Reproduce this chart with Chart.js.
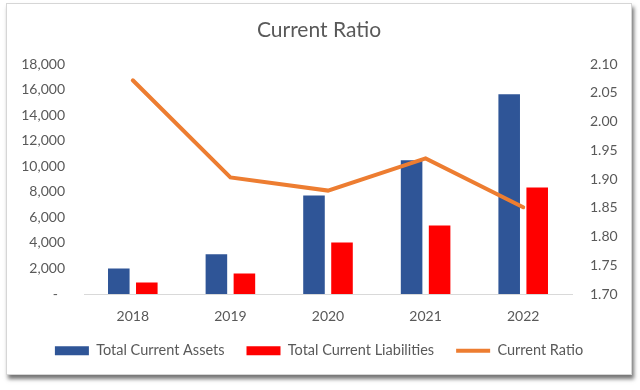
<!DOCTYPE html>
<html>
<head>
<meta charset="utf-8">
<title>Current Ratio</title>
<script src="https://cdn.jsdelivr.net/npm/chart.js@4.4.1/dist/chart.umd.min.js"></script>
<style>
    body { margin: 0; background: #ffffff; width: 640px; height: 390px; overflow: hidden; }
    /* card behind the chart, with the grey frame and drop shadow */
    #card {
        position: absolute; left: 6px; top: 3px; width: 624px; height: 370px;
        border: 1px solid #d6d6d6; background: #ffffff;
        box-shadow: 2px 4px 4px rgba(0, 0, 0, 0.55);
    }
    #chart { position: absolute; left: 6px; top: 3px; }
</style>
</head>
<body>
<div id="card"></div>
<canvas id="chart" width="626" height="372"></canvas>
<script>
// Data
const years = ['2018', '2019', '2020', '2021', '2022'];
const totalCurrentAssets = [2000, 3120, 7720, 10470, 15640];
const totalCurrentLiabilities = [900, 1610, 4040, 5370, 8350];
const currentRatio = [2.072, 1.903, 1.880, 1.936, 1.851];

// Axis ranges
const leftMax = 18000;
const leftStep = 2000;
const rightMin = 1.70;
const rightMax = 2.10;
const rightStep = 0.05;

const textColor = '#595959';
Chart.defaults.font.family = 'Lato, "Open Sans", sans-serif';
Chart.defaults.color = textColor;

const ctx = document.getElementById('chart').getContext('2d');
const chart = new Chart(ctx, {
    type: 'bar',
    data: {
        labels: years,
        datasets: [
            {
                label: 'Total Current Assets',
                data: totalCurrentAssets,
                backgroundColor: '#2F5597',
                borderWidth: 0,
                pointStyle: 'rect',
                categoryPercentage: 0.574,
                barPercentage: 0.77,
                yAxisID: 'y',
                order: 1
            },
            {
                label: 'Total Current Liabilities',
                data: totalCurrentLiabilities,
                backgroundColor: '#FF0000',
                borderWidth: 0,
                pointStyle: 'rect',
                categoryPercentage: 0.574,
                barPercentage: 0.77,
                yAxisID: 'y',
                order: 1
            },
            {
                type: 'line',
                label: 'Current Ratio',
                data: currentRatio,
                borderColor: '#ED7D31',
                backgroundColor: '#ED7D31',
                borderWidth: 4,
                borderCapStyle: 'round',
                borderJoinStyle: 'miter',
                pointRadius: 0,
                pointStyle: 'line',
                tension: 0,
                yAxisID: 'y1',
                order: 0 // keep the line on top of the bars
            }
        ]
    },
    options: {
        responsive: false,
        animation: false,
        layout: {
            padding: { top: 15, bottom: 7, left: 0, right: 0 }
        },
        plugins: {
            title: {
                display: true,
                text: 'Current Ratio',
                color: textColor,
                font: { size: 21, weight: 'normal' },
                padding: { top: 0, bottom: 21 }
            },
            legend: {
                position: 'bottom',
                labels: {
                    usePointStyle: true,
                    pointStyleWidth: 34,
                    boxHeight: 9,
                    padding: 22,
                    color: textColor,
                    font: { size: 14.5 },
                    // legend in dataset order, not draw order
                    sort: (a, b) => a.datasetIndex - b.datasetIndex
                }
            },
            tooltip: { enabled: false }
        },
        scales: {
            x: {
                grid: { display: false, drawTicks: false },
                border: { display: true, color: '#d9d9d9', width: 1 },
                ticks: { padding: 14.5, font: { size: 14 }, color: textColor },
                afterFit: scale => { scale.height = 27.5; }
            },
            y: {
                position: 'left',
                min: 0,
                max: leftMax,
                grid: { display: false, drawTicks: false },
                border: { display: false },
                ticks: {
                    stepSize: leftStep,
                    padding: 19,
                    font: { size: 14 },
                    color: textColor,
                    callback: v => v === 0 ? '-  ' : v.toLocaleString('en-US')
                },
                afterFit: scale => { scale.width = 78; }
            },
            y1: {
                position: 'right',
                min: rightMin,
                max: rightMax,
                grid: { display: false, drawTicks: false },
                border: { display: false },
                ticks: {
                    stepSize: rightStep,
                    padding: 18,
                    font: { size: 14 },
                    color: textColor,
                    callback: v => Number(v).toFixed(2)
                },
                afterFit: scale => { scale.width = 60; }
            }
        }
    }
});
</script>
</body>
</html>
